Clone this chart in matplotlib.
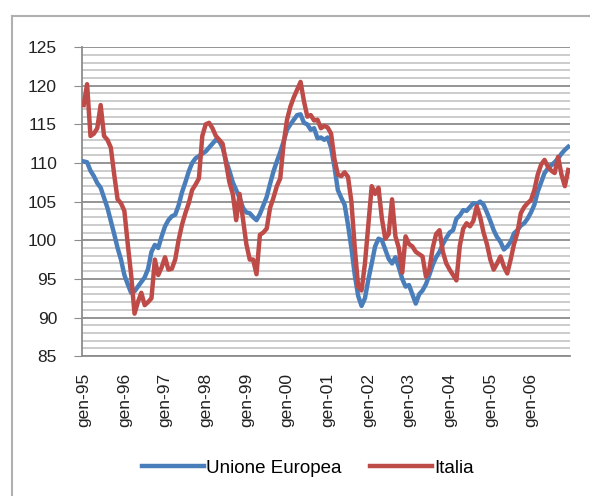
import matplotlib
matplotlib.use('Agg')
from matplotlib import pyplot as plt
from matplotlib.lines import Line2D
from matplotlib.ticker import MultipleLocator

# monthly index values, gen-95 .. dic-06
ue = [110.2, 110.1, 109.0, 108.3, 107.4, 106.8, 105.5, 104.2, 102.5, 100.8, 99.0, 97.5,
      95.5, 94.3, 93.2, 93.4, 94.0, 94.6, 95.2, 96.3, 98.5, 99.4, 99.0, 100.5,
      101.8, 102.6, 103.1, 103.3, 104.5, 106.2, 107.5, 108.9, 110.0, 110.6, 110.9, 111.2,
      111.5, 112.0, 112.5, 113.0, 112.8, 112.0, 110.3, 109.0, 107.5, 106.5, 105.5, 104.2,
      103.6, 103.5, 103.0, 102.6, 103.4, 104.5, 105.6, 107.3, 108.9, 110.2, 111.4, 112.8,
      114.3, 115.0, 115.6, 116.2, 116.3, 115.2, 115.0, 114.3, 114.5, 113.2, 113.3, 113.0,
      113.3, 112.0, 109.5, 106.5, 105.5, 104.6, 102.0, 99.0, 95.5, 92.8, 91.5, 92.5,
      94.9, 97.0, 99.2, 100.2, 100.0, 98.8, 97.6, 97.0, 97.8, 96.5, 95.0, 94.0,
      94.2, 93.0, 91.8, 93.0, 93.5, 94.3, 95.5, 96.8, 97.8, 98.5, 99.5, 100.3,
      101.0, 101.3, 102.8, 103.2, 103.9, 103.8, 104.3, 104.8, 104.7, 105.0, 104.6, 103.6,
      102.5, 101.3, 100.4, 99.8, 98.8, 99.2, 99.8, 100.9, 101.3, 101.9, 102.2, 102.8,
      103.6, 104.6, 106.3, 107.5, 108.7, 109.3, 109.7, 110.1, 110.6, 111.2, 111.7, 112.1]

italia = [117.5, 120.2, 113.5, 113.8, 114.5, 117.5, 113.5, 113.0, 112.0, 108.5, 105.3, 104.8,
          103.8, 99.5, 95.5, 90.5, 92.0, 93.2, 91.6, 92.0, 92.5, 97.5, 95.5, 96.5,
          97.8, 96.2, 96.3, 97.5, 100.0, 102.0, 103.5, 104.8, 106.5, 107.2, 108.0, 113.5,
          115.0, 115.2, 114.5, 113.5, 113.0, 112.5, 110.0, 107.5, 106.0, 102.6, 106.0, 102.8,
          99.5, 97.5, 97.5, 95.6, 100.7, 101.0, 101.5, 104.2, 105.5, 107.0, 108.0, 112.5,
          115.6, 117.3, 118.5, 119.5, 120.5, 118.0, 116.0, 116.2, 115.5, 115.6, 114.5, 114.8,
          114.6, 113.8, 110.5, 108.5, 108.3, 108.8, 108.2, 105.0, 99.0, 94.0, 93.5, 97.0,
          102.0, 107.0, 106.0, 106.8, 102.8, 100.2, 100.8, 105.3, 100.5, 99.0, 95.8, 100.5,
          99.5, 99.2, 98.5, 98.2, 97.9, 95.3, 96.2, 99.0, 100.8, 101.3, 98.5, 97.0,
          96.2, 95.5, 94.8, 99.3, 101.5, 102.2, 101.8, 102.5, 104.4, 103.0, 101.0, 99.5,
          97.5, 96.2, 97.0, 97.9, 96.6, 95.7, 97.5, 99.5, 101.0, 103.5, 104.3, 104.8,
          105.2, 106.5, 108.5, 109.8, 110.4, 109.5, 109.0, 108.7, 110.8, 108.5, 107.0, 109.1]

years = ['95', '96', '97', '98', '99', '00', '01', '02', '03', '04', '05', '06']
tick_labels = ['gen-' + y for y in years]

plt.rcParams['font.family'] = ['Liberation Sans', 'DejaVu Sans']

fig = plt.figure(figsize=(5.9, 4.96), dpi=100)
ax = fig.add_axes([0.139, 0.282, 0.827, 0.623])

months = list(range(len(ue)))
ax.plot(months, ue, color='#4a7ebb', linewidth=3.2, label='Unione Europea', zorder=3)
ax.plot(months, italia, color='#be4b48', linewidth=3.2, label='Italia', zorder=3)

ax.set_ylim(85, 125)
ax.set_xlim(-0.5, len(ue) - 0.5)
ax.yaxis.set_major_locator(MultipleLocator(5))
ax.yaxis.set_minor_locator(MultipleLocator(1))
ax.grid(which='major', axis='y', color='#8c8c8c', linewidth=1.3)
ax.grid(which='minor', axis='y', color='#c8c8c8', linewidth=1.3)
ax.set_axisbelow(True)

ax.set_xticks(range(0, len(ue), 12))
ax.set_xticklabels(tick_labels, rotation=90)
ax.tick_params(axis='x', length=0, pad=12, labelsize=12.5, colors='#222222')
ax.tick_params(axis='y', which='major', length=6, color='#8c8c8c', pad=12,
               labelsize=12.5, labelcolor='#222222')
ax.tick_params(axis='y', which='minor', length=0)

for side in ['top', 'right']:
    ax.spines[side].set_visible(False)
for side in ['left', 'bottom']:
    ax.spines[side].set_color('#8c8c8c')
    ax.spines[side].set_linewidth(1.3)

fig.legend(loc='center', bbox_to_anchor=(0.522, 0.056), ncol=2, frameon=False,
           fontsize=13.5, handlelength=3.3, handletextpad=0.15, columnspacing=1.5)

# outer chart frame (left and top edges visible)
fig.add_artist(Line2D([12 / 590, 12 / 590], [0, 1 - 16 / 496], color='#b0b0b0', linewidth=1.5))
fig.add_artist(Line2D([12 / 590, 1], [1 - 16 / 496, 1 - 16 / 496], color='#b0b0b0', linewidth=1.5))

fig.savefig('out.png', dpi=100)
plt.close(fig)
